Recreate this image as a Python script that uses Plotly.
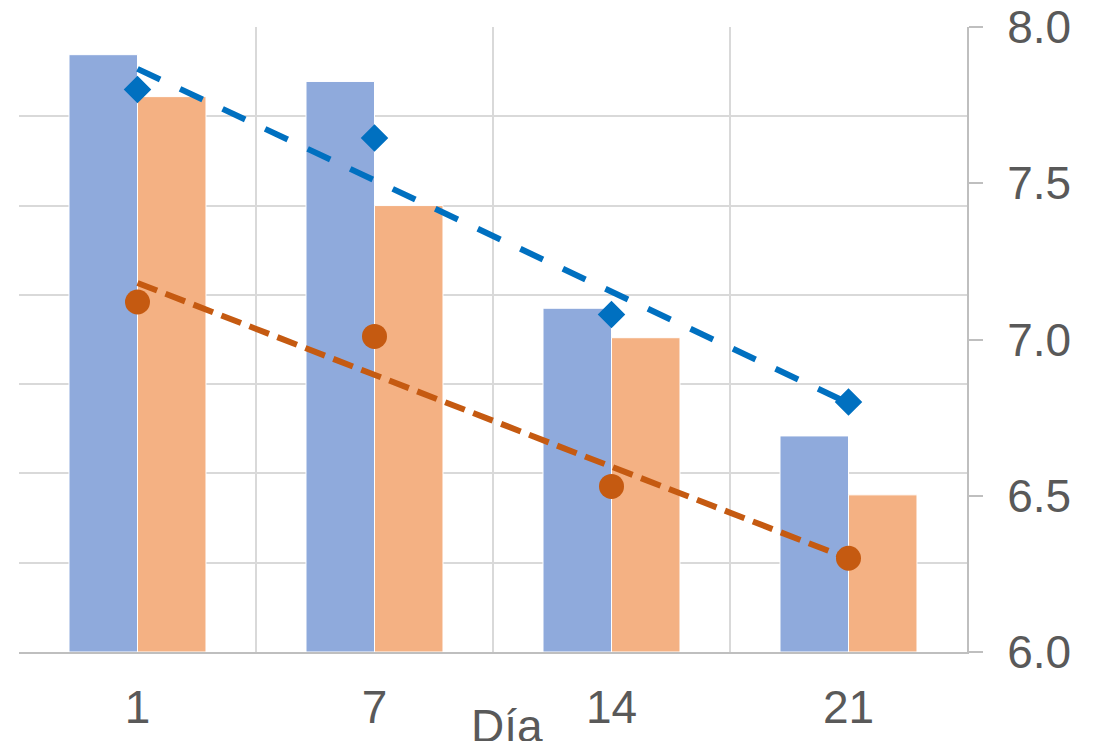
import numpy as np
import plotly.graph_objects as go

dias = ["1", "7", "14", "21"]
barras_azul = [6.69, 6.39, 3.85, 2.42]
barras_naranja = [6.22, 5.00, 3.52, 1.76]
puntos_azul = [7.80, 7.645, 7.08, 6.80]
puntos_naranja = [7.12, 7.01, 6.53, 6.30]

idx = np.arange(1, len(dias) + 1)
def tendencia(vals):
    m, b = np.polyfit(idx, vals, 1)
    return list(m * idx + b)

tend_azul = tendencia(puntos_azul)
tend_naranja = tendencia(puntos_naranja)

fig = go.Figure()
fig.add_trace(go.Bar(x=dias, y=barras_azul, marker=dict(color="#8FAADC", line=dict(color="white", width=1)), yaxis="y"))
fig.add_trace(go.Bar(x=dias, y=barras_naranja, marker=dict(color="#F4B183", line=dict(color="white", width=1)), yaxis="y"))
fig.add_trace(go.Scatter(x=dias, y=tend_azul, mode="lines", line=dict(color="#0070C0", width=6, dash="25px,22px"), yaxis="y2"))
fig.add_trace(go.Scatter(x=dias, y=tend_naranja, mode="lines", line=dict(color="#C55A11", width=6, dash="21px,9px"), yaxis="y2"))
fig.add_trace(go.Scatter(x=dias, y=puntos_azul, mode="markers",
                         marker=dict(symbol="diamond", size=19, color="#0070C0", line=dict(color="#0070C0", width=2)), yaxis="y2"))
fig.add_trace(go.Scatter(x=dias, y=puntos_naranja, mode="markers", marker=dict(symbol="circle", size=25, color="#C55A11"), yaxis="y2"))

fig.update_layout(
    width=1102, height=741,
    margin=dict(l=11, r=143, t=19, b=97),
    paper_bgcolor="white", plot_bgcolor="white",
    showlegend=False,
    barmode="group", bargap=0.422, bargroupgap=0,
    font=dict(family="Liberation Sans, Arial, sans-serif", color="#595959"),
    xaxis=dict(type="category", tickson="boundaries", showgrid=True, gridcolor="#D9D9D9", gridwidth=2,
               ticks="", showline=True, linecolor="#BFBFBF", linewidth=2, automargin=False,
               tickfont=dict(size=46, color="#595959"), ticklabelstandoff=14),
    yaxis=dict(range=[0, 7], dtick=1, showgrid=True, gridcolor="#D9D9D9", gridwidth=2,
               showticklabels=False, zeroline=False, showline=False, automargin=False),
    yaxis2=dict(range=[6, 8], dtick=0.5, overlaying="y", side="right", showgrid=False,
                showline=True, linecolor="#BFBFBF", linewidth=2, ticks="outside", ticklen=14,
                tickcolor="#BFBFBF", tickwidth=2, tickformat=".1f", zeroline=False, automargin=False,
                ticklabeloverflow="allow",
                tickfont=dict(size=46, color="#595959"), ticklabelstandoff=15),
    annotations=[dict(text="Día", xref="paper", yref="paper", x=0.515, y=-0.074,
                      xanchor="center", yanchor="top", showarrow=False,
                      font=dict(size=46, color="#595959"))],
)
fig.write_html("out.html")
